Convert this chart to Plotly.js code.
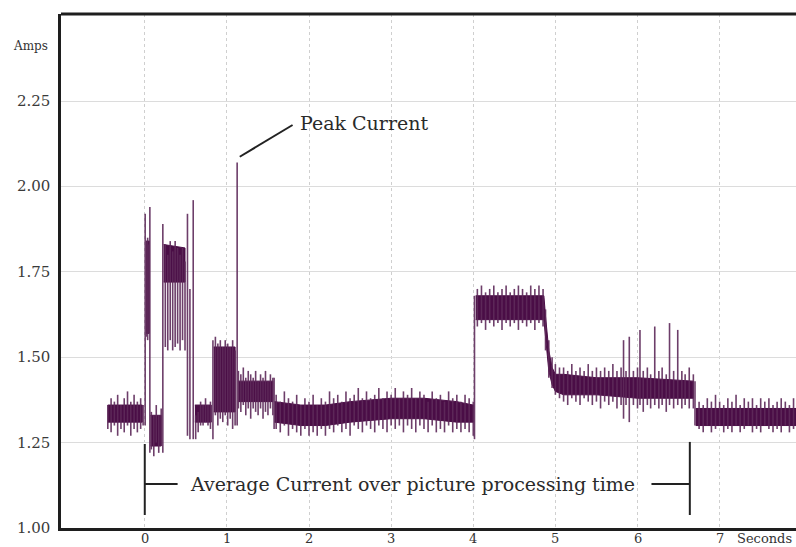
<!DOCTYPE html>
<html>
<head>
<meta charset="utf-8">
<script src="https://cdn.plot.ly/plotly-3.0.1.min.js"></script>
<style>html,body{margin:0;padding:0;background:#fff;}#chart{width:796px;height:547px;}</style>
</head>
<body>
<div id="chart"></div>
<script>
// ---- Data (seconds, amps) ----
// Noise extremes of the current trace: sample time, upper extreme, lower extreme
var sampleTime = [
 -0.45,-0.41,-0.37,-0.33,-0.29,-0.25,-0.21,-0.17,-0.13,-0.09,-0.05,-0.02,
 0.005,0.02,0.035,0.05,0.062,0.08,0.11,0.14,0.17,0.20,0.22,0.25,0.28,0.31,0.34,0.37,0.40,0.43,0.46,0.49,
 0.52,0.55,0.59,0.62,0.65,0.68,0.71,0.74,0.77,0.80,0.83,0.86,0.89,0.92,0.95,0.98,1.01,1.04,1.07,1.10,
 1.125,1.14,1.17,1.20,1.23,1.26,1.29,1.32,1.35,1.38,1.41,1.44,1.47,1.50,1.53,1.56,1.575,
 1.60,1.65,1.70,1.75,1.80,1.85,1.90,1.95,2.00,2.05,2.10,2.15,2.20,2.25,2.30,2.35,2.40,2.45,2.50,2.55,
 2.60,2.65,2.70,2.75,2.80,2.85,2.90,2.95,3.00,3.05,3.10,3.15,3.20,3.25,3.30,3.35,3.40,3.45,3.50,3.55,
 3.60,3.65,3.70,3.75,3.80,3.85,3.90,3.95,4.00,4.015,
 4.05,4.10,4.15,4.20,4.25,4.30,4.35,4.40,4.45,4.50,4.55,4.60,4.65,4.70,4.75,4.80,4.85,
 4.88,4.92,4.96,5.00,5.05,
 5.10,5.15,5.20,5.25,5.30,5.35,5.40,5.45,5.50,5.55,5.60,5.65,5.70,5.75,5.80,5.83,5.86,5.90,5.95,6.00,
 6.03,6.07,6.12,6.16,6.21,6.26,6.30,6.35,6.39,6.44,6.49,6.54,6.58,6.63,6.68,6.70,
 6.75,6.80,6.85,6.90,6.95,7.00,7.05,7.10,7.15,7.20,7.25,7.30,7.35,7.40,7.45,7.50,7.55,7.60,7.65,7.70,
 7.75,7.80,7.85,7.90,7.95
];
var sampleHigh = [
 1.36,1.38,1.37,1.39,1.36,1.38,1.40,1.37,1.39,1.37,1.38,1.36,
 1.92,1.84,1.85,1.83,1.94,1.34,1.33,1.36,1.33,1.35,1.89,1.83,1.80,1.84,1.81,1.84,1.82,1.80,1.82,1.78,
 1.92,1.70,1.96,1.33,1.34,1.37,1.36,1.38,1.36,1.37,1.55,1.56,1.54,1.55,1.53,1.55,1.54,1.53,1.55,1.52,
 2.07,1.46,1.45,1.47,1.44,1.46,1.45,1.44,1.46,1.43,1.45,1.44,1.46,1.43,1.45,1.44,1.44,
 1.39,1.37,1.40,1.38,1.37,1.39,1.36,1.38,1.37,1.39,1.36,1.38,1.37,1.40,1.38,1.39,1.37,1.40,1.38,1.39,
 1.41,1.38,1.40,1.38,1.39,1.41,1.38,1.40,1.39,1.41,1.38,1.40,1.39,1.41,1.38,1.40,1.39,1.37,1.40,1.38,
 1.39,1.37,1.40,1.38,1.39,1.37,1.39,1.38,1.37,1.68,
 1.70,1.71,1.69,1.70,1.71,1.69,1.70,1.71,1.69,1.70,1.71,1.70,1.69,1.71,1.70,1.71,1.70,
 1.64,1.55,1.50,1.48,1.47,
 1.47,1.46,1.48,1.46,1.47,1.46,1.48,1.46,1.47,1.46,1.47,1.46,1.48,1.46,1.47,1.55,1.46,1.56,1.46,1.47,
 1.58,1.46,1.47,1.45,1.59,1.46,1.47,1.45,1.60,1.46,1.58,1.46,1.45,1.47,1.45,1.43,
 1.37,1.36,1.38,1.37,1.39,1.37,1.36,1.38,1.37,1.39,1.36,1.38,1.37,1.38,1.36,1.38,1.37,1.38,1.36,1.37,
 1.38,1.37,1.36,1.38,1.37
];
var sampleLow = [
 1.29,1.28,1.30,1.27,1.29,1.28,1.30,1.27,1.29,1.28,1.29,1.30,
 1.30,1.56,1.55,1.57,1.22,1.23,1.21,1.25,1.22,1.24,1.22,1.53,1.52,1.55,1.52,1.53,1.54,1.52,1.55,1.52,
 1.27,1.26,1.26,1.26,1.28,1.30,1.30,1.31,1.30,1.29,1.26,1.33,1.30,1.32,1.31,1.33,1.30,1.32,1.29,1.30,
 1.30,1.35,1.34,1.36,1.33,1.35,1.32,1.35,1.34,1.33,1.35,1.32,1.34,1.33,1.35,1.33,1.29,
 1.29,1.28,1.30,1.27,1.29,1.28,1.27,1.29,1.27,1.28,1.27,1.29,1.27,1.29,1.28,1.30,1.28,1.29,1.27,1.30,
 1.29,1.28,1.30,1.29,1.28,1.30,1.29,1.28,1.30,1.29,1.30,1.28,1.30,1.29,1.28,1.30,1.29,1.28,1.30,1.28,
 1.29,1.28,1.30,1.28,1.29,1.28,1.29,1.28,1.27,1.26,
 1.59,1.60,1.58,1.60,1.59,1.60,1.58,1.60,1.59,1.60,1.58,1.60,1.59,1.60,1.58,1.60,1.59,
 1.52,1.44,1.41,1.39,1.38,
 1.37,1.36,1.38,1.37,1.36,1.38,1.37,1.36,1.37,1.35,1.37,1.36,1.37,1.35,1.36,1.32,1.36,1.31,1.36,1.35,
 1.36,1.34,1.36,1.35,1.36,1.35,1.36,1.34,1.36,1.35,1.36,1.35,1.36,1.35,1.35,1.30,
 1.29,1.28,1.30,1.28,1.29,1.30,1.28,1.29,1.28,1.30,1.28,1.29,1.30,1.28,1.29,1.28,1.30,1.29,1.28,1.29,
 1.28,1.30,1.28,1.29,1.28
];
// Dense core of the trace, by segment (null separates segments)
var coreTime = [-0.45,-0.03,null, 0.015,0.055,null, 0.07,0.20,null, 0.23,0.49,null, 0.61,0.81,null,
  0.84,1.10,null, 1.14,1.56,null, 1.58,1.9,2.2,2.5,3.0,3.4,3.8,4.0,null,
  4.03,4.86,4.88,4.92,4.96,5.0,5.1,5.5,6.0,6.68,null, 6.71,7.95];
var coreHigh = [1.36,1.36,null, 1.84,1.84,null, 1.33,1.33,null, 1.83,1.82,null, 1.36,1.36,null,
  1.53,1.53,null, 1.43,1.43,null, 1.37,1.36,1.36,1.37,1.38,1.38,1.37,1.36,null,
  1.68,1.68,1.62,1.52,1.47,1.45,1.45,1.44,1.44,1.43,null, 1.35,1.35];
var coreLow = [1.31,1.31,null, 1.57,1.57,null, 1.24,1.24,null, 1.72,1.72,null, 1.31,1.31,null,
  1.34,1.34,null, 1.37,1.37,null, 1.31,1.30,1.30,1.31,1.32,1.32,1.31,1.31,null,
  1.61,1.61,1.55,1.46,1.42,1.40,1.39,1.39,1.38,1.38,null, 1.30,1.30];
var xTicks = [0,1,2,3,4,5,6,7];
var yTicks = [1.00,1.25,1.50,1.75,2.00,2.25];

// ---- Build traces ----
var traces = [];
var segT = [], segH = [], segL = [];
function flushSeg() {
  if (segT.length) {
    traces.push({
      x: segT.concat(segT.slice().reverse()),
      y: segH.concat(segL.slice().reverse()),
      type: 'scatter', mode: 'lines', fill: 'toself',
      fillcolor: '#4a0d46', line: {color: '#4a0d46', width: 1},
      hoverinfo: 'skip', showlegend: false
    });
  }
  segT = []; segH = []; segL = [];
}
for (var i = 0; i < coreTime.length; i++) {
  if (coreTime[i] === null) { flushSeg(); continue; }
  segT.push(coreTime[i]); segH.push(coreHigh[i]); segL.push(coreLow[i]);
}
flushSeg();

// noise extremes as separate vertical strokes
var vx = [], vy = [];
for (var j = 0; j < sampleTime.length; j++) {
  vx.push(sampleTime[j], sampleTime[j], null);
  vy.push(sampleHigh[j], sampleLow[j], null);
}
traces.push({
  x: vx, y: vy, type: 'scatter', mode: 'lines', connectgaps: false,
  line: {color: '#5e2a5a', width: 1.6}, opacity: 0.9,
  hoverinfo: 'skip', showlegend: false
});

var serif = 'DejaVu Serif, Liberation Serif, serif';
var annotations = [
  {text: 'Peak Current', xref: 'x', yref: 'y', x: 1.86, y: 2.187, xanchor: 'left', yanchor: 'middle',
   showarrow: false, font: {family: serif, size: 19, color: '#2a2a2a'}},
  {text: 'Average Current over picture processing time', xref: 'x', yref: 'y', x: 3.26, y: 1.129,
   xanchor: 'center', yanchor: 'middle', showarrow: false, font: {family: serif, size: 19, color: '#2a2a2a'}},
  {text: 'Amps', xref: 'paper', yref: 'y', x: -0.042, y: 2.41, xanchor: 'center', yanchor: 'middle',
   showarrow: false, font: {family: serif, size: 12, color: '#333'}},
  {text: 'Seconds', xref: 'x', yref: 'paper', x: 7.2, y: -0.0045, xanchor: 'left', yanchor: 'top',
   borderpad: 0, showarrow: false, font: {family: serif, size: 13, color: '#333'}}
];
xTicks.forEach(function (v) {
  annotations.push({text: String(v), xref: 'x', yref: 'paper', x: v, y: -0.0045, xanchor: 'center',
    yanchor: 'top', borderpad: 0, showarrow: false, font: {family: serif, size: 13, color: '#333'}});
});
yTicks.forEach(function (v) {
  annotations.push({text: v.toFixed(2), xref: 'paper', yref: 'y', x: -0.014, y: v, xanchor: 'right',
    yanchor: 'middle', borderpad: 0, showarrow: false, font: {family: serif, size: 15, color: '#3a3a3a'}});
});

var layout = {
  width: 796, height: 547,
  margin: {l: 61, r: 0, t: 14, b: 19},
  paper_bgcolor: '#ffffff', plot_bgcolor: '#ffffff',
  showlegend: false,
  xaxis: {
    range: [-1.02, 7.93], tickvals: xTicks, showticklabels: false,
    showgrid: true, gridcolor: '#cfcfcf', gridwidth: 1, griddash: 'dot',
    zeroline: false, showline: true, linecolor: '#1e1e1e', linewidth: 3, ticks: ''
  },
  yaxis: {
    range: [1.0, 2.505], tickvals: yTicks, showticklabels: false,
    showgrid: true, gridcolor: '#dcdcdc', gridwidth: 1,
    zeroline: false, showline: true, linecolor: '#1e1e1e', linewidth: 3, ticks: ''
  },
  shapes: [
    {type: 'line', xref: 'paper', yref: 'paper', x0: 0, x1: 1, y0: 1, y1: 1, line: {color: '#1e1e1e', width: 3}},
    {type: 'line', xref: 'x', yref: 'y', x0: 1.157, y0: 2.087, x1: 1.80, y1: 2.18, line: {color: '#222', width: 2}},
    {type: 'line', xref: 'x', yref: 'y', x0: 0, y0: 1.038, x1: 0, y1: 1.246, line: {color: '#222', width: 2}},
    {type: 'line', xref: 'x', yref: 'y', x0: 0, y0: 1.129, x1: 0.40, y1: 1.129, line: {color: '#222', width: 2}},
    {type: 'line', xref: 'x', yref: 'y', x0: 6.637, y0: 1.038, x1: 6.637, y1: 1.252, line: {color: '#222', width: 2}},
    {type: 'line', xref: 'x', yref: 'y', x0: 6.17, y0: 1.129, x1: 6.637, y1: 1.129, line: {color: '#222', width: 2}}
  ],
  annotations: annotations
};
Plotly.newPlot('chart', traces, layout, {staticPlot: true, displayModeBar: false});
</script>
</body>
</html>
